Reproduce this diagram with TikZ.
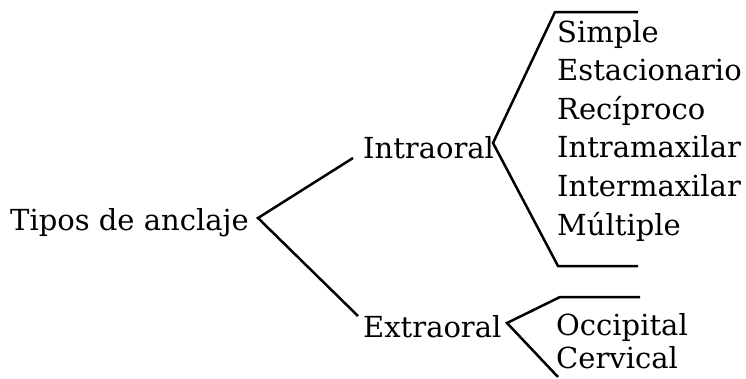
\documentclass[tikz,border=0pt]{standalone}
\usepackage{fontspec}
\setmainfont{DejaVu Serif}
\begin{document}
\begin{tikzpicture}[x=1bp,y=-1bp,
  lbl/.style={anchor=base west,inner sep=0pt,font=\fontsize{29bp}{34bp}\selectfont},
  brace/.style={line width=2.5bp,line join=miter}]
\useasboundingbox (0,0) rectangle (746,378);
% texts
\node[lbl] (tipos) at (10,230) {Tipos de anclaje};
\node[lbl] (intra) at (363,158) {Intraoral};
\node[lbl] (extra) at (363,337) {Extraoral};
\node[lbl] (i1) at (557,42) {Simple};
\node[lbl] (i2) at (557,80.6) {Estacionario};
\node[lbl] (i3) at (557,119.2) {Recíproco};
\node[lbl] (i4) at (557,157.8) {Intramaxilar};
\node[lbl] (i5) at (557,196.4) {Intermaxilar};
\node[lbl] (i6) at (557,235) {Múltiple};
\node[lbl] (e1) at (556,335) {Occipital};
\node[lbl] (e2) at (556,368) {Cervical};
% bracket points
\coordinate (t0) at (258,218);
\coordinate (tU) at (353,158);
\coordinate (tD) at (358,316);
\coordinate (n0) at (493,143);
\coordinate (nU) at (555,12);
\coordinate (nUe) at (638,12);
\coordinate (nD) at (558,266);
\coordinate (nDe) at (638,266);
\coordinate (x0) at (507,323);
\coordinate (xU) at (560,297);
\coordinate (xUe) at (640,297);
\coordinate (xD) at (558,377);
% connectors
\draw[brace] (tU) -- (t0) -- (tD);
\draw[brace] (nUe) -- (nU) -- (n0) -- (nD) -- (nDe);
\draw[brace] (xUe) -- (xU) -- (x0) -- (xD);
\end{tikzpicture}
\end{document}
